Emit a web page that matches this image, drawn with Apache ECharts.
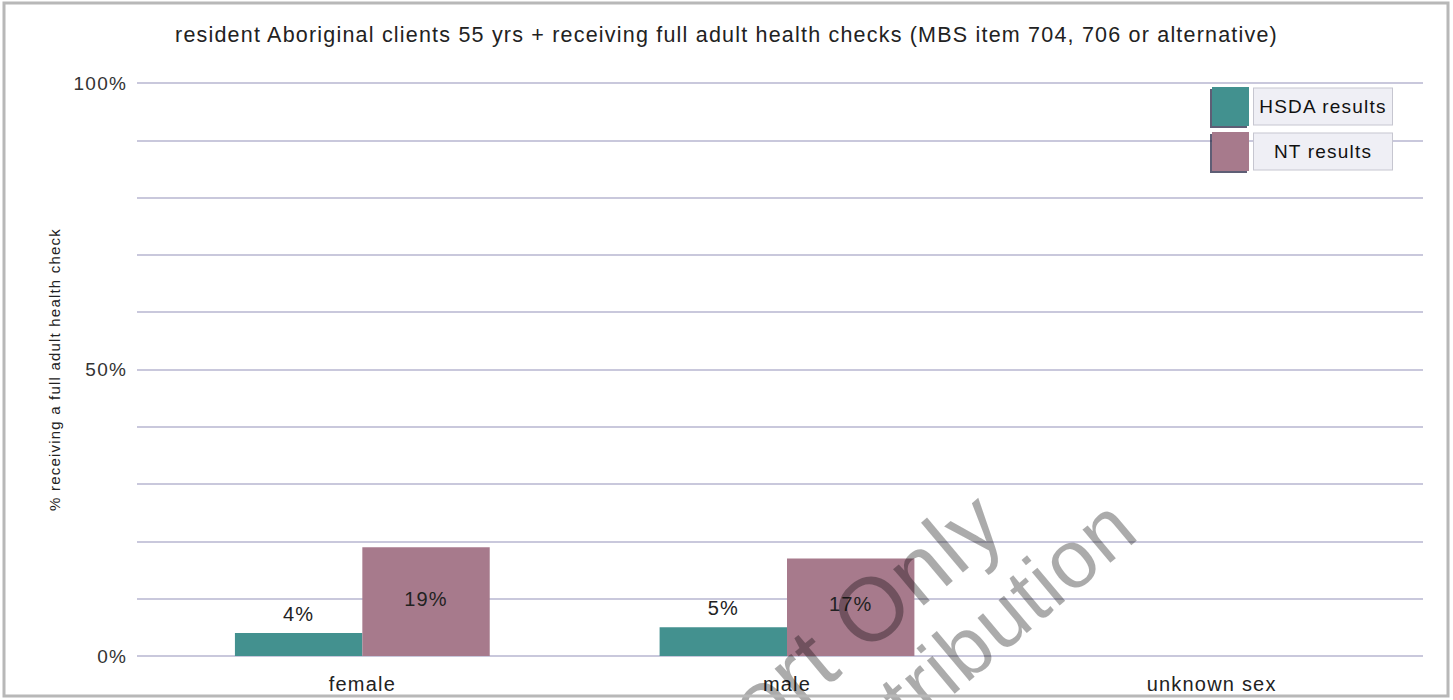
<!DOCTYPE html>
<html>
<head>
<meta charset="utf-8">
<title>Full adult health checks, 55 yrs +</title>
<script src="https://cdn.jsdelivr.net/npm/echarts@6/dist/echarts.min.js"></script>
<style>
  html, body { margin: 0; padding: 0; background: #ffffff; }
  #chart { width: 1453px; height: 700px; }
  /* the report typeface is set with slightly open tracking */
  #chart text { letter-spacing: 1.2px; }
</style>
</head>
<body>
<div id="chart"></div>
<script>
// Categories and results (percent of clients)
const categories = ['female', 'male', 'unknown sex'];
const hsdaResults = [4, 5, null];
const ntResults = [19, 17, null];
const seriesNames = ['HSDA results', 'NT results'];
const titleText = 'resident Aboriginal clients 55 yrs + receiving full adult health checks (MBS item 704, 706 or alternative)';
const yAxisTitle = '% receiving a full adult health check';
const watermarkLines = ['Report Only', 'Not for distribution'];

const FONT = '"Liberation Sans", Arial, Helvetica, sans-serif';
const TEAL = '#43918f';
const MAUVE = '#a77a8c';
const GRID_LINE = '#c9c8dc';
const WATERMARK = 'rgba(0,0,0,0.33)';
const WATERMARK_ANGLE = 40 * Math.PI / 180;

const chart = echarts.init(document.getElementById('chart'), null, { renderer: 'svg' });

const valueLabel = p => p.value + '%';

// diagonal watermark line, anchored at its right end
const watermark = (text, x, y, size) => ({
  type: 'text',
  z: 90,
  silent: true,
  x: x,
  y: y,
  rotation: WATERMARK_ANGLE,
  style: {
    text: text,
    align: 'right',
    verticalAlign: 'bottom',
    fontFamily: FONT,
    fontSize: size,
    fill: WATERMARK
  }
});

const option = {
  animation: false,
  backgroundColor: '#ffffff',
  title: {
    text: titleText,
    left: 'center',
    top: 19,
    textStyle: { fontFamily: FONT, fontSize: 21.5, fontWeight: 'normal', color: '#222' }
  },
  legend: {
    orient: 'vertical',
    right: 55,
    top: 82,
    itemWidth: 37,
    itemHeight: 39,
    itemGap: 6,
    icon: 'rect',
    data: seriesNames,
    itemStyle: { shadowColor: 'rgba(40,40,70,0.75)', shadowBlur: 0, shadowOffsetX: -2, shadowOffsetY: 2 },
    formatter: name => '{box|' + name + '}',
    textStyle: {
      fontFamily: FONT,
      fontSize: 19,
      color: '#111',
      rich: {
        box: {
          fontFamily: FONT,
          fontSize: 19,
          color: '#111',
          backgroundColor: '#efeff5',
          borderColor: '#c6c6d0',
          borderWidth: 1,
          width: 138,
          height: 36,
          lineHeight: 36,
          align: 'center'
        }
      }
    }
  },
  grid: [
    // frame for the value gridlines
    { left: 137, right: 30, top: 83, bottom: 44, containLabel: false },
    // band that holds the category bars
    { left: 150, right: 29, top: 83, bottom: 44, containLabel: false }
  ],
  xAxis: [
    { type: 'value', gridIndex: 0, show: false, min: 0, max: 1 },
    {
      type: 'category',
      gridIndex: 1,
      data: categories,
      axisLine: { show: false },
      axisTick: { show: false },
      axisLabel: { fontFamily: FONT, fontSize: 20, color: '#222', margin: 18 }
    }
  ],
  yAxis: [
    {
      type: 'value',
      gridIndex: 0,
      min: 0,
      max: 100,
      interval: 50,
      name: yAxisTitle,
      nameLocation: 'middle',
      nameGap: 75,
      nameTextStyle: { fontFamily: FONT, fontSize: 15, color: '#222' },
      axisLine: { show: false },
      axisTick: { show: false },
      axisLabel: { fontFamily: FONT, fontSize: 19, color: '#333', margin: 10, formatter: '{value}%' },
      splitLine: { show: true, lineStyle: { color: GRID_LINE, width: 2 } },
      minorTick: { show: false, splitNumber: 5 },
      minorSplitLine: { show: true, lineStyle: { color: GRID_LINE, width: 2 } }
    },
    { type: 'value', gridIndex: 1, min: 0, max: 100, show: false }
  ],
  series: [
    {
      name: seriesNames[0],
      type: 'bar',
      xAxisIndex: 1,
      yAxisIndex: 1,
      data: hsdaResults,
      barWidth: '30%',
      barGap: '0%',
      itemStyle: { color: TEAL },
      label: {
        show: true,
        position: 'top',
        distance: 9,
        fontFamily: FONT,
        fontSize: 20,
        color: '#222',
        formatter: valueLabel
      }
    },
    {
      name: seriesNames[1],
      type: 'bar',
      xAxisIndex: 1,
      yAxisIndex: 1,
      data: ntResults,
      barWidth: '30%',
      barGap: '0%',
      itemStyle: { color: MAUVE },
      label: {
        show: true,
        position: 'inside',
        offset: [0, -3],
        fontFamily: FONT,
        fontSize: 20,
        color: '#222',
        formatter: valueLabel
      }
    }
  ],
  graphic: [
    {
      type: 'rect',
      z: 100,
      silent: true,
      shape: { x: 4, y: 3, width: 1444, height: 693 },
      style: { fill: 'none', stroke: '#b8b8b8', lineWidth: 3 }
    },
    watermark(watermarkLines[0], 1019, 544, 90),
    watermark(watermarkLines[1], 1150, 546, 82)
  ]
};

chart.setOption(option);
</script>
</body>
</html>
